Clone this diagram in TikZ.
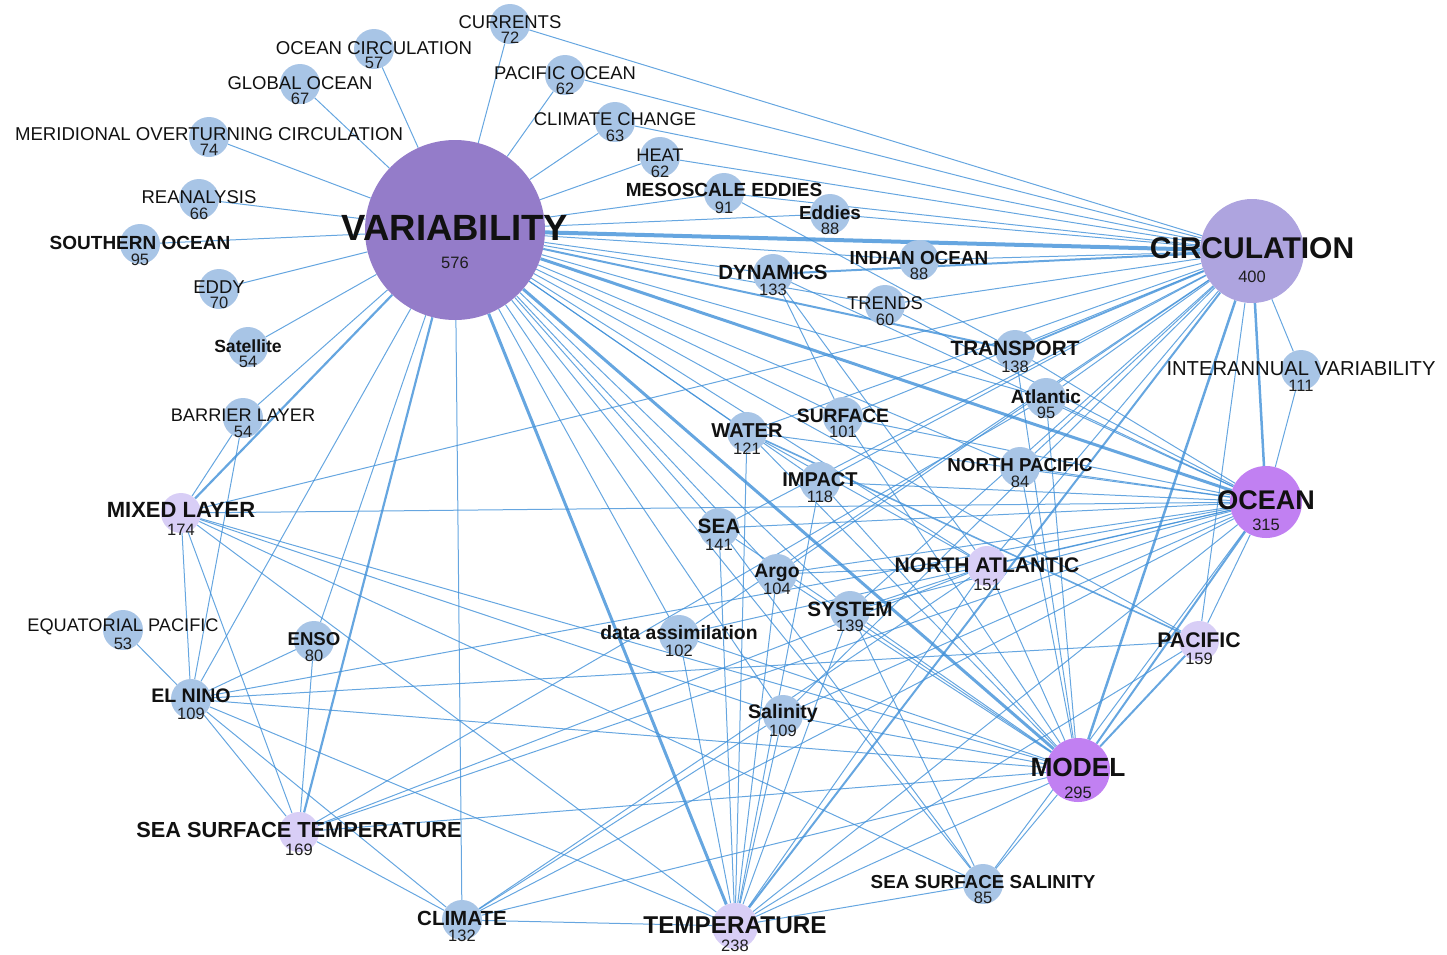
\documentclass[tikz,border=0pt]{standalone}
\usepackage{fontspec}
\setmainfont{Liberation Sans}
\pgfdeclarelayer{bg}
\pgfsetlayers{bg,main}
\definecolor{kwblue}{RGB}{168,197,230}
\definecolor{kwlav}{RGB}{216,206,246}
\definecolor{varpurple}{RGB}{148,124,201}
\definecolor{circlav}{RGB}{174,164,223}
\definecolor{kwviolet}{RGB}{193,128,242}
\definecolor{edgeblue}{RGB}{64,144,216}
\definecolor{ink}{RGB}{17,17,17}
\definecolor{numink}{RGB}{30,30,30}
\tikzset{
  kw/.style={circle, inner sep=0pt, minimum size=40pt, fill=kwblue, draw=none},
  lb/.style={font=\fontsize{#1}{#1}\selectfont, inner sep=0pt, text=ink},
  lbb/.style={font=\fontsize{#1}{#1}\selectfont\bfseries, inner sep=0pt, text=ink},
  nm/.style={font=\fontsize{16.5}{17}\selectfont, inner sep=0pt, text=numink},
  lk/.style={draw=edgeblue, line width=1pt, opacity=.8},
}
% keyword label and count: name, x, label y, count y, label style, text, count
\newcommand\kwlabel[7]{%
  \node[#5] (#1-l) at (#2,#3) {#6};
  \node[nm] (#1-n) at (#2,#4) {#7};}
\begin{document}
\begin{tikzpicture}[x=1pt,y=-1pt]
\useasboundingbox (0,0) rectangle (1447,954);

% ---- keyword circles ----
\node[kw, minimum size=180pt, fill=varpurple] (V) at (455,230) {};
\node[kw, minimum size=104pt, fill=circlav] (C) at (1252,251) {};
\node[kw, minimum size=72pt, fill=kwviolet] (O) at (1266,502) {};
\node[kw, minimum size=64pt, fill=kwviolet] (M) at (1078,770) {};
\node[kw, minimum size=46pt, fill=kwlav] (T) at (735,926) {};
\node[kw, fill=kwlav] (SST) at (299,832) {};
\node[kw, fill=kwlav] (ML) at (181,513) {};
\node[kw, fill=kwlav] (NA) at (987,566) {};
\node[kw, fill=kwlav] (P) at (1199,641) {};
\node[kw] (cur) at (510,24) {};
\node[kw] (oc) at (374,49) {};
\node[kw] (go) at (300,84) {};
\node[kw] (moc) at (209,137) {};
\node[kw] (rea) at (199,199) {};
\node[kw] (so) at (140,244) {};
\node[kw] (eddy) at (219,289) {};
\node[kw] (sat) at (248,347) {};
\node[kw] (bl) at (243,418) {};
\node[kw] (eqp) at (123,630) {};
\node[kw] (en) at (191,699) {};
\node[kw] (enso) at (314,641) {};
\node[kw] (cli) at (462,920) {};
\node[kw] (po) at (565,75) {};
\node[kw] (cc) at (615,122) {};
\node[kw] (heat) at (660,157) {};
\node[kw] (me) at (724,193) {};
\node[kw] (ed) at (830,214) {};
\node[kw] (io) at (919,260) {};
\node[kw] (dyn) at (773,274) {};
\node[kw] (tr) at (885,305) {};
\node[kw] (trans) at (1015,350) {};
\node[kw] (iv) at (1301,370) {};
\node[kw] (atl) at (1046,398) {};
\node[kw] (surf) at (843,417) {};
\node[kw] (water) at (747,432) {};
\node[kw] (np) at (1020,467) {};
\node[kw] (imp) at (820,482) {};
\node[kw] (sea) at (719,528) {};
\node[kw] (argo) at (777,574) {};
\node[kw] (sys) at (850,611) {};
\node[kw] (da) at (679,635) {};
\node[kw] (sal) at (783,715) {};
\node[kw] (sss) at (983,884) {};

% ---- co-occurrence links ----
\begin{pgfonlayer}{bg}
\foreach \a/\b in {V/oc,V/go,V/moc,V/rea,V/so,V/eddy,V/sat,V/cur,V/po,V/cc,V/heat,V/me,V/ed,V/io,V/dyn,V/tr,V/atl,V/np,V/surf,V/water,V/imp,V/sea,V/argo,V/sys,V/NA,V/da,V/sal,V/P,V/sss,V/cli,V/enso,V/en,V/bl,
  C/cur,C/po,C/cc,C/heat,C/me,C/ed,C/io,C/tr,C/iv,C/atl,C/np,C/surf,C/water,C/sea,C/imp,C/NA,C/sys,C/argo,C/ML,C/P,C/sal,C/da,
  O/iv,O/trans,O/atl,O/np,O/ML,O/en,O/NA,O/P,O/sea,O/water,O/imp,O/surf,O/sys,O/argo,O/da,O/sal,O/SST,O/sss,O/T,O/tr,O/dyn,O/cli,
  M/NA,M/sys,M/sal,M/da,M/argo,M/sea,M/water,M/imp,M/surf,M/trans,M/atl,M/np,M/ML,M/en,M/SST,M/T,M/sss,M/cli,
  T/sea,T/argo,T/sal,T/sys,T/da,T/NA,T/P,T/sss,T/cli,T/ML,T/en,T/imp,T/water,
  ML/bl,ML/en,ML/SST,ML/sal,ML/sss,
  en/eqp,en/bl,en/enso,en/SST,en/cli,en/P,
  enso/SST,SST/cli,SST/atl,SST/NA,cli/NA,cli/sal,
  NA/water,NA/sys,NA/argo,NA/dyn,sea/sss,sys/sss,me/trans,dyn/surf}
  \draw[lk] (\a) -- (\b);
\draw[lk, line width=4pt] (V) -- (C);
\draw[lk, line width=3pt] (V) -- (O);
\draw[lk, line width=3pt] (V) -- (M);
\draw[lk, line width=3pt] (V) -- (T);
\draw[lk, line width=2.2pt] (V) -- (SST);
\draw[lk, line width=2.2pt] (V) -- (ML);
\draw[lk, line width=2pt] (V) -- (trans);
\draw[lk, line width=2.5pt] (C) -- (O);
\draw[lk, line width=2.5pt] (C) -- (M);
\draw[lk, line width=2pt] (C) -- (T);
\draw[lk, line width=2pt] (C) -- (dyn);
\draw[lk, line width=1.8pt] (C) -- (trans);
\draw[lk, line width=2pt] (O) -- (M);
\draw[lk, line width=2pt] (M) -- (P);
\draw[lk, line width=1.6pt] (water) -- (P);
\end{pgfonlayer}

% ---- labels and counts ----
\kwlabel{V}{455}{228}{263}{lbb=36.5}{VARIABILITY}{576}
\kwlabel{C}{1252}{248}{277}{lbb=30}{CIRCULATION}{400}
\kwlabel{O}{1266}{500}{525}{lbb=27}{OCEAN}{315}
\kwlabel{M}{1078}{767}{793}{lbb=26.3}{MODEL}{295}
\kwlabel{T}{735}{925}{946}{lbb=24.3}{TEMPERATURE}{238}
\kwlabel{SST}{299}{830}{850}{lbb=21.8}{SEA SURFACE TEMPERATURE}{169}
\kwlabel{ML}{181}{510}{530}{lbb=22}{MIXED LAYER}{174}
\kwlabel{NA}{987}{565}{585}{lbb=21.1}{NORTH ATLANTIC}{151}
\kwlabel{P}{1199}{640}{659}{lbb=21.2}{PACIFIC}{159}
\kwlabel{cur}{510}{22}{38}{lb=18.5}{CURRENTS}{72}
\kwlabel{oc}{374}{48}{63}{lb=18.6}{OCEAN CIRCULATION}{57}
\kwlabel{go}{300}{83}{99}{lb=18.5}{GLOBAL OCEAN}{67}
\kwlabel{moc}{209}{134}{150}{lb=18.6}{MERIDIONAL OVERTURNING CIRCULATION}{74}
\kwlabel{rea}{199}{197}{214}{lb=18.5}{REANALYSIS}{66}
\kwlabel{so}{140}{243}{260}{lbb=19}{SOUTHERN OCEAN}{95}
\kwlabel{eddy}{219}{287}{303}{lb=18.5}{EDDY}{70}
\kwlabel{sat}{248}{346}{362}{lbb=17.6}{Satellite}{54}
\kwlabel{bl}{243}{415}{432}{lb=18.2}{BARRIER LAYER}{54}
\kwlabel{eqp}{123}{627}{644}{lb=18.2}{EQUATORIAL PACIFIC}{53}
\kwlabel{en}{191}{696}{714}{lbb=19.6}{EL NINO}{109}
\kwlabel{enso}{314}{639}{656}{lbb=18.6}{ENSO}{80}
\kwlabel{cli}{462}{918}{936}{lbb=20.5}{CLIMATE}{132}
\kwlabel{po}{565}{73}{89}{lb=18.4}{PACIFIC OCEAN}{62}
\kwlabel{cc}{615}{119}{136}{lb=18.4}{CLIMATE CHANGE}{63}
\kwlabel{heat}{660}{155}{172}{lb=18.2}{HEAT}{62}
\kwlabel{me}{724}{190}{208}{lbb=19}{MESOSCALE EDDIES}{91}
\kwlabel{ed}{830}{213}{229}{lbb=18.9}{Eddies}{88}
\kwlabel{io}{919}{258}{274}{lbb=18.9}{INDIAN OCEAN}{88}
\kwlabel{dyn}{773}{272}{290}{lbb=20.5}{DYNAMICS}{133}
\kwlabel{tr}{885}{303}{320}{lb=18.4}{TRENDS}{60}
\kwlabel{trans}{1015}{348}{367}{lbb=20.7}{TRANSPORT}{138}
\kwlabel{iv}{1301}{369}{386}{lb=20.2}{INTERANNUAL VARIABILITY}{111}
\kwlabel{atl}{1046}{397}{413}{lbb=19.1}{Atlantic}{95}
\kwlabel{surf}{843}{416}{432}{lbb=19.3}{SURFACE}{101}
\kwlabel{water}{747}{431}{449}{lbb=20.1}{WATER}{121}
\kwlabel{np}{1020}{465}{482}{lbb=18.7}{NORTH PACIFIC}{84}
\kwlabel{imp}{820}{480}{497}{lbb=20}{IMPACT}{118}
\kwlabel{sea}{719}{526}{545}{lbb=20.8}{SEA}{141}
\kwlabel{argo}{777}{573}{589}{lbb=19.4}{Argo}{104}
\kwlabel{sys}{850}{609}{626}{lbb=20.7}{SYSTEM}{139}
\kwlabel{da}{679}{633}{651}{lbb=19.4}{data assimilation}{102}
\kwlabel{sal}{783}{713}{731}{lbb=19.6}{Salinity}{109}
\kwlabel{sss}{983}{882}{898}{lbb=18.8}{SEA SURFACE SALINITY}{85}
\end{tikzpicture}
\end{document}
